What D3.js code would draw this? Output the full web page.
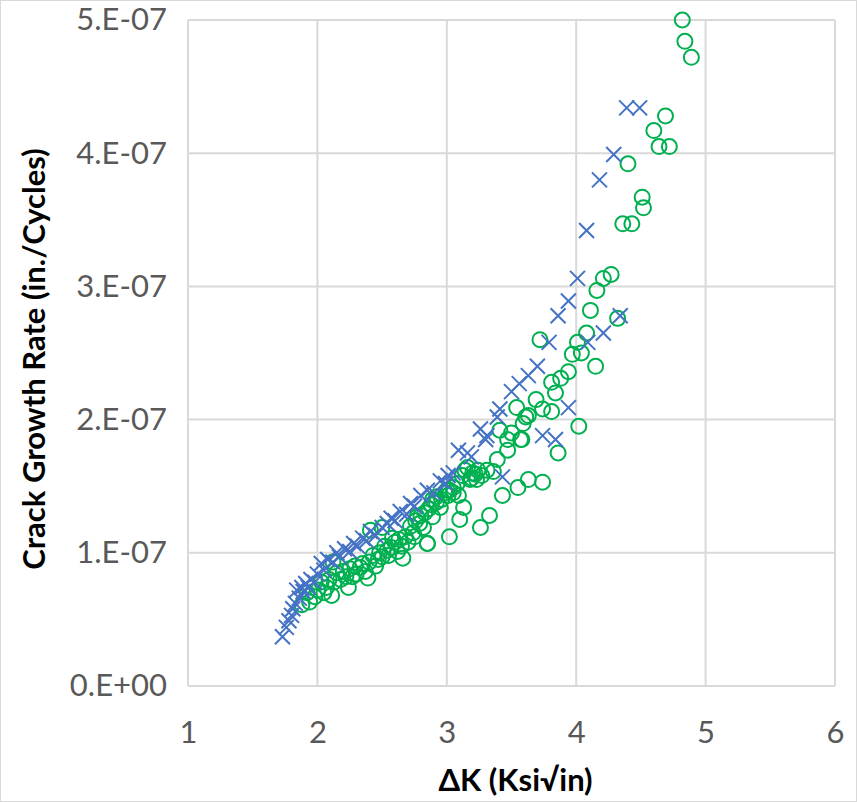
<!DOCTYPE html>
<html>
<head>
<meta charset="utf-8">
<script src="https://cdn.jsdelivr.net/npm/d3@7"></script>
<style>
  html, body { margin: 0; padding: 0; background: #fff; }
  svg { display: block; }
</style>
</head>
<body>
<svg id="chart" width="857" height="802"></svg>
<script>
// ΔK (Ksi√in) and crack growth rate (×1e-7 in./cycle), series 1 (blue crosses)
const seriesA_dK = [1.73,1.76,1.78,1.80,1.81,1.83,1.84,1.86,1.88,1.89,1.91,1.93,1.95,1.98,2.00,2.03,2.05,2.08,2.12,2.15,2.17,2.21,2.25,2.28,2.31,2.35,2.38,2.41,2.45,2.50,2.54,2.57,2.60,2.64,2.69,2.72,2.75,2.80,2.85,2.90,2.95,2.99,3.01,3.05,3.09,3.16,3.19,3.26,3.30,3.31,3.39,3.41,3.43,3.50,3.56,3.63,3.70,3.74,3.79,3.84,3.86,3.94,3.94,4.01,4.08,4.09,4.18,4.21,4.29,4.34,4.39,4.49];
const seriesA_rate = [0.37,0.44,0.49,0.53,0.58,0.62,0.72,0.66,0.74,0.71,0.77,0.74,0.80,0.78,0.84,0.92,0.87,0.95,0.93,1.00,0.97,1.03,1.01,1.07,1.05,1.11,1.09,1.16,1.13,1.19,1.22,1.26,1.24,1.31,1.29,1.37,1.35,1.43,1.47,1.45,1.54,1.52,1.58,1.60,1.77,1.75,1.72,1.93,1.85,1.88,2.02,2.08,1.57,2.21,2.27,2.33,2.40,1.88,2.58,1.85,2.78,2.89,2.09,3.06,3.42,2.58,3.80,2.65,3.99,2.78,4.34,4.34];

// series 2 (green circles)
const seriesB_dK = [1.88,1.94,1.98,2.11,2.07,2.12,2.15,2.24,2.27,2.33,2.39,2.41,2.50,2.47,2.54,2.58,2.62,2.66,2.74,2.77,2.82,2.85,2.89,2.95,2.99,3.02,
  1.92,2.00,2.03,2.05,2.09,2.13,2.18,2.20,2.22,2.25,2.29,2.30,2.35,2.37,2.40,2.43,2.45,2.48,2.50,2.52,2.55,2.57,2.60,2.63,2.65,2.68,2.70,2.72,2.76,2.80,2.83,2.86,2.88,2.92,2.96,3.05,3.08,3.12,3.20,3.22,
  3.05,3.00,3.09,2.92,3.13,3.10,3.02,3.43,3.55,3.63,3.74,3.33,3.26,2.89,2.79,2.85,2.75,3.14,3.18,3.23,3.01,3.16,3.24,3.31,3.36,3.19,3.27,3.39,3.47,3.47,3.57,3.50,3.41,3.59,3.54,3.63,
  3.58,3.61,3.81,3.74,3.69,3.84,3.81,3.88,3.94,4.15,4.04,3.97,4.01,4.08,3.72,4.32,4.11,4.16,4.27,4.21,4.02,3.86,
  4.36,4.43,4.52,4.51,4.40,4.72,4.64,4.60,4.69,4.89,4.84,4.82];
const seriesB_rate = [0.61,0.63,0.67,0.68,0.74,0.93,0.85,0.74,0.82,0.89,0.81,1.17,1.19,0.95,1.02,1.11,1.01,0.96,1.15,1.27,1.19,1.07,1.40,1.34,1.45,1.47,
  0.70,0.72,0.78,0.70,0.80,0.78,0.80,0.86,0.82,0.88,0.90,0.84,0.92,0.86,0.93,0.98,0.90,1.00,0.97,1.05,0.98,1.04,1.08,1.10,1.05,1.12,1.08,1.20,1.24,1.28,1.30,1.33,1.36,1.38,1.40,1.45,1.52,1.58,1.60,1.59,
  1.49,1.47,1.43,1.42,1.34,1.25,1.12,1.43,1.49,1.55,1.53,1.28,1.19,1.27,1.22,1.07,1.12,1.62,1.55,1.55,1.43,1.64,1.62,1.62,1.61,1.56,1.58,1.70,1.77,1.85,1.85,1.90,1.92,1.97,2.09,2.03,
  1.85,2.02,2.06,2.08,2.15,2.20,2.28,2.31,2.36,2.40,2.50,2.49,2.58,2.65,2.60,2.76,2.82,2.97,3.09,3.06,1.95,1.75,
  3.47,3.47,3.59,3.67,3.92,4.05,4.05,4.17,4.28,4.72,4.84,5.00];

const xTicks = [1, 2, 3, 4, 5, 6];
const yTicks = [0, 1e-7, 2e-7, 3e-7, 4e-7, 5e-7];
const yTickLabels = ["0.E+00", "1.E-07", "2.E-07", "3.E-07", "4.E-07", "5.E-07"];

const W = 857, H = 802;
const m = { left: 188, right: 857 - 835, top: 20, bottom: 802 - 686 };

const svg = d3.select("#chart");
svg.append("rect").attr("x", 0.5).attr("y", 0.5).attr("width", W - 1).attr("height", H - 1)
  .attr("fill", "#fff").attr("stroke", "#D9D9D9").attr("stroke-width", 1);

const x = d3.scaleLinear().domain([1, 6]).range([m.left, W - m.right]);
const y = d3.scaleLinear().domain([0, 5e-7]).range([H - m.bottom, m.top]);

// gridlines
const grid = svg.append("g");
grid.selectAll("line.v").data(xTicks).join("line").attr("class", "v")
  .attr("x1", d => x(d)).attr("x2", d => x(d))
  .attr("y1", y(0)).attr("y2", y(5e-7))
  .attr("stroke", "#D9D9D9").attr("stroke-width", 2);
grid.selectAll("line.h").data(yTicks).join("line").attr("class", "h")
  .attr("x1", x(1)).attr("x2", x(6))
  .attr("y1", d => y(d)).attr("y2", d => y(d))
  .attr("stroke", "#D9D9D9").attr("stroke-width", 2);

// axes (labels only)
const fontTick = "Lato, 'Open Sans', sans-serif";
const xAxis = d3.axisBottom(x).tickValues(xTicks).tickSize(0).tickPadding(35).tickFormat(d3.format("d"));
const gx = svg.append("g").attr("transform", `translate(0,${y(0)})`).call(xAxis);
gx.select(".domain").remove();
gx.selectAll("text").attr("fill", "#595959").attr("font-size", 31).attr("font-family", fontTick);

const yAxis = d3.axisLeft(y).tickValues(yTicks).tickSize(0).tickPadding(21)
  .tickFormat((d, i) => yTickLabels[i]);
const gy = svg.append("g").attr("transform", `translate(${x(1)},0)`).call(yAxis);
gy.select(".domain").remove();
gy.selectAll("text").attr("fill", "#595959").attr("font-size", 31).attr("font-family", fontTick);

// data
const ptsA = seriesA_dK.map((d, i) => ({ x: d, y: seriesA_rate[i] * 1e-7 }));
const ptsB = seriesB_dK.map((d, i) => ({ x: d, y: seriesB_rate[i] * 1e-7 }));

svg.append("g").selectAll("circle").data(ptsB).join("circle")
  .attr("cx", d => x(d.x)).attr("cy", d => y(d.y)).attr("r", 7.5)
  .attr("fill", "none").attr("stroke", "#00B050").attr("stroke-width", 2);

const s = 7.5;
const gA = svg.append("g");
gA.selectAll("path").data(ptsA).join("path")
  .attr("d", d => {
    const cx = x(d.x), cy = y(d.y);
    return `M${cx - s},${cy - s}L${cx + s},${cy + s}M${cx - s},${cy + s}L${cx + s},${cy - s}`;
  })
  .attr("fill", "none").attr("stroke", "#4472C4").attr("stroke-width", 2);

// titles
const fontTitle = "Lato, 'Open Sans', sans-serif";
svg.append("text")
  .attr("transform", `translate(45,${(y(0) + y(5e-7)) / 2 + 6}) rotate(-90)`)
  .attr("text-anchor", "middle").attr("font-family", fontTitle).attr("font-weight", "bold")
  .attr("font-size", 31).attr("fill", "#000").text("Crack Growth Rate (in./Cycles)");

svg.append("text")
  .attr("x", (x(1) + x(6)) / 2 + 4).attr("y", 791)
  .attr("text-anchor", "middle").attr("font-family", fontTitle).attr("font-weight", "bold")
  .attr("font-size", 31).attr("fill", "#000").text("ΔK (Ksi√in)");
</script>
</body>
</html>
